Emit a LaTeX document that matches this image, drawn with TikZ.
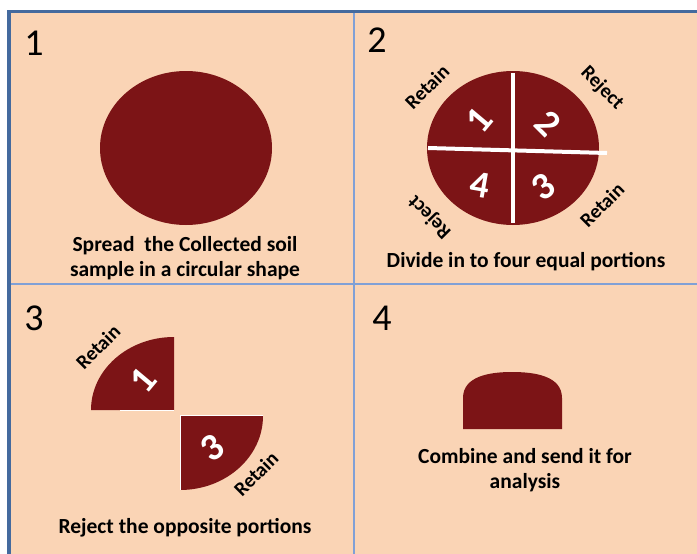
\documentclass[tikz,border=0pt]{standalone}
\usepackage{fontspec}
\setmainfont{Carlito}
\definecolor{peach}{RGB}{250,212,181}
\definecolor{soilred}{RGB}{124,20,22}
\definecolor{framedark}{RGB}{68,106,158}
\definecolor{framelight}{RGB}{128,160,214}

\begin{document}
\begin{tikzpicture}[x=1pt, y=-1pt,
			caption/.style = {font=\fontsize{21.5}{25}\selectfont\bfseries, align=center, inner sep=0pt},
			panelno/.style = {font=\fontsize{38}{40}\selectfont, inner sep=0pt},
			portion/.style = {text=white, font=\fontsize{38}{40}\selectfont\bfseries, inner sep=0pt},
			tag/.style = {font=\fontsize{20}{22}\selectfont\bfseries, inner sep=0pt}]

			% page and frame
			\useasboundingbox (0,0) rectangle (697,554);
			\fill [peach] (9,12) rectangle (697,554);
			\draw [framelight, line width=1.5pt] (354,12) -- (354,554);
			\draw [framelight, line width=1.5pt] (9,284) -- (697,284);
			\draw [framedark, line width=3.5pt] (9,554) -- (9,11.5) -- (697,11.5);

			% panel numbers
			\node [panelno] (no1) at (34,43) {1};
			\node [panelno] (no2) at (377,40) {2};
			\node [panelno] (no3) at (34,318) {3};
			\node [panelno] (no4) at (382,318) {4};

			% 1: spread sample
			\fill [soilred] (186,148) ellipse [x radius=86, y radius=77];
			\node [caption] (spread) at (185,258) {Spread\ \ the Collected soil\\sample in a circular shape};

			% 2: quartered sample
			\fill [soilred] (513,148) ellipse [x radius=86, y radius=77];
			\draw [white, line width=4pt] (513,73) -- (513,223);
			\draw [white, line width=4pt] (428,148) -- (607,153);
			\node [portion, rotate=50] (q1) at (479,120) {1};
			\node [portion, rotate=-45] (q2) at (548,123) {2};
			\node [portion, rotate=35] (q3) at (543,187) {3};
			\node [portion, rotate=-10] (q4) at (480,185) {4};
			\node [tag, rotate=45] (retain1) at (427,87) {Retain};
			\node [tag, rotate=-45] (reject2) at (602,88) {Reject};
			\node [tag, rotate=45] (retain3) at (602,205) {Retain};
			\node [tag, rotate=135] (reject4) at (430,217) {Reject};
			\node [caption] (divide) at (526,262) {Divide in to four equal portions};

			% 3: the retained portions
			\fill [soilred] (174,410) -- (91,410) arc [start angle=180, end angle=270, x radius=83, y radius=73] -- cycle;
			\fill [soilred] (180,416) -- (263,416) arc [start angle=0, end angle=90, x radius=83, y radius=74] -- cycle;
			\draw [white, line width=0.8pt] (120,410.5) -- (174,410.5);
			\draw [white, line width=0.8pt] (180,490) -- (180,415.5) -- (263,415.5);
			\node [portion, rotate=50] (r1) at (143,380) {1};
			\node [portion, rotate=35] (r3) at (212,448) {3};
			\node [tag, rotate=45] (retainr1) at (98,347) {Retain};
			\node [tag, rotate=45] (retainr3) at (256,474) {Retain};
			\node [caption] (reject) at (185,528) {Reject the opposite portions};

			% 4: combined heap
			\fill [soilred] (463,429) -- (463,398) .. controls (463,376) and (490,372) .. (512,372)
				.. controls (535,372) and (562,376) .. (562,398) -- (562,429) -- cycle;
			\node [caption] (combine) at (525,470) {Combine and send it for\\analysis};
		\end{tikzpicture}
\end{document}
